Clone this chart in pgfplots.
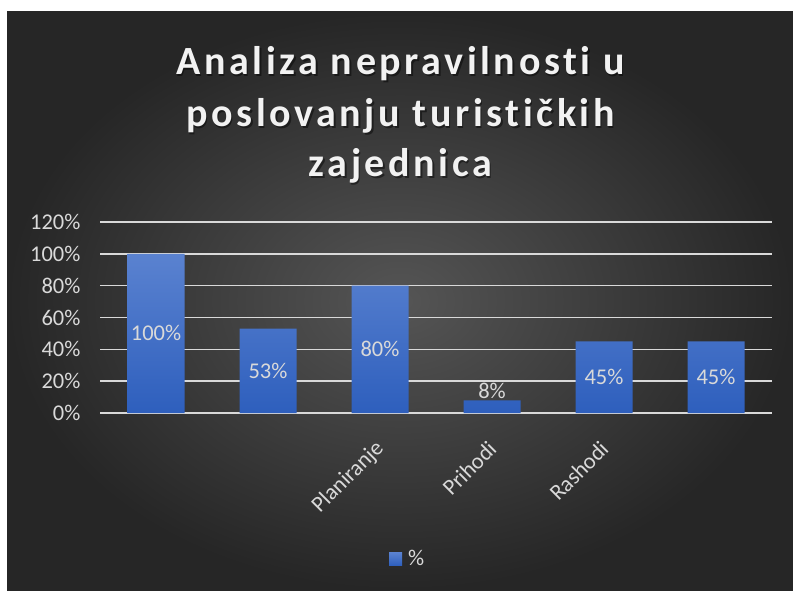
\documentclass[border=0pt]{standalone}
\usepackage{pgfplots}
\pgfplotsset{compat=1.18}
\usepackage{fontspec}
\setmainfont{Carlito}
\newfontfamily\titlefont[LetterSpace=9, Ligatures=NoCommon]{Carlito}
\definecolor{bgin}{HTML}{555555}
\definecolor{bgout}{HTML}{262626}
\definecolor{txt}{HTML}{D9D9D9}
\definecolor{gridc}{HTML}{D9D9D9}
\definecolor{bartop}{HTML}{5A82D0}
\definecolor{barbot}{HTML}{2E5FBD}
\definecolor{barmid}{HTML}{4472C4}
\begin{document}
\begin{tikzpicture}[x=1pt,y=1pt]
\fill[white] (0pt,0pt) rectangle (793pt,590pt);
\shade[inner color=bgin, outer color=bgout] (7pt,0pt) rectangle (793pt,578pt);
% title
\begin{scope}[every node/.style={anchor=base, font=\titlefont\bfseries\fontsize{40}{44}\selectfont}]
\node[text=black, opacity=0.45] at (402pt,513.5pt) {Analiza nepravilnosti u};
\node[text=black, opacity=0.45] at (402pt,461.5pt) {poslovanju turističkih};
\node[text=black, opacity=0.45] at (402pt,411.5pt) {zajednica};
\node[text=white!95!black] at (400.5pt,515pt) {Analiza nepravilnosti u};
\node[text=white!95!black] at (400.5pt,463pt) {poslovanju turističkih};
\node[text=white!95!black] at (400.5pt,413pt) {zajednica};
\end{scope}
\begin{axis}[
  at={(100pt,177pt)}, anchor=south west,
  scale only axis, width=672pt, height=191pt,
  xmin=-0.5, xmax=5.5, ymin=0, ymax=120,
  xtick={0,1,2,3,4,5},
  xticklabels={{},{},Planiranje,Prihodi,Rashodi,{}},
  ytick={0,20,40,60,80,100,120},
  yticklabel={\pgfmathprintnumber{\tick}\%},
  /pgf/number format/assume math mode=true,
  ymajorgrids, grid style={color=gridc, line width=1.6pt},
  axis line style={draw=none}, tick style={draw=none},
  every tick label/.append style={font=\fontsize{22.5}{26}\selectfont, text=txt},
  yticklabel style={xshift=-16pt},
  xticklabel style={rotate=45, anchor=east, xshift=-19pt, yshift=-23pt},
  legend style={at={(rel axis cs:0.458,-0.764)}, anchor=center, draw=none, fill=none,
    text=txt, font=\fontsize{22.5}{26}\selectfont, inner sep=0pt,
    /tikz/every even column/.append style={column sep=0pt}},
  legend cell align=left,
  clip=false,
]
\addplot[ybar, bar width=57pt, draw=none, top color=bartop, bottom color=barbot,
  legend image code/.code={\fill[barmid] (0pt,-6.5pt) rectangle (13pt,6.5pt);}]
  coordinates {(0,100) (1,53) (2,80) (3,8) (4,45) (5,45)};
\addlegendentry{\hspace{4pt}\%}
\addplot[draw=none, mark=none, forget plot, nodes near coords, point meta=explicit symbolic,
  nodes near coords style={anchor=center, font=\fontsize{22.5}{26}\selectfont, text=txt}]
  coordinates {(0,50) [100\%] (1,26.5) [53\%] (2,40) [80\%] (3,13.8) [8\%] (4,22.5) [45\%] (5,22.5) [45\%]};
\end{axis}
\end{tikzpicture}
\end{document}
